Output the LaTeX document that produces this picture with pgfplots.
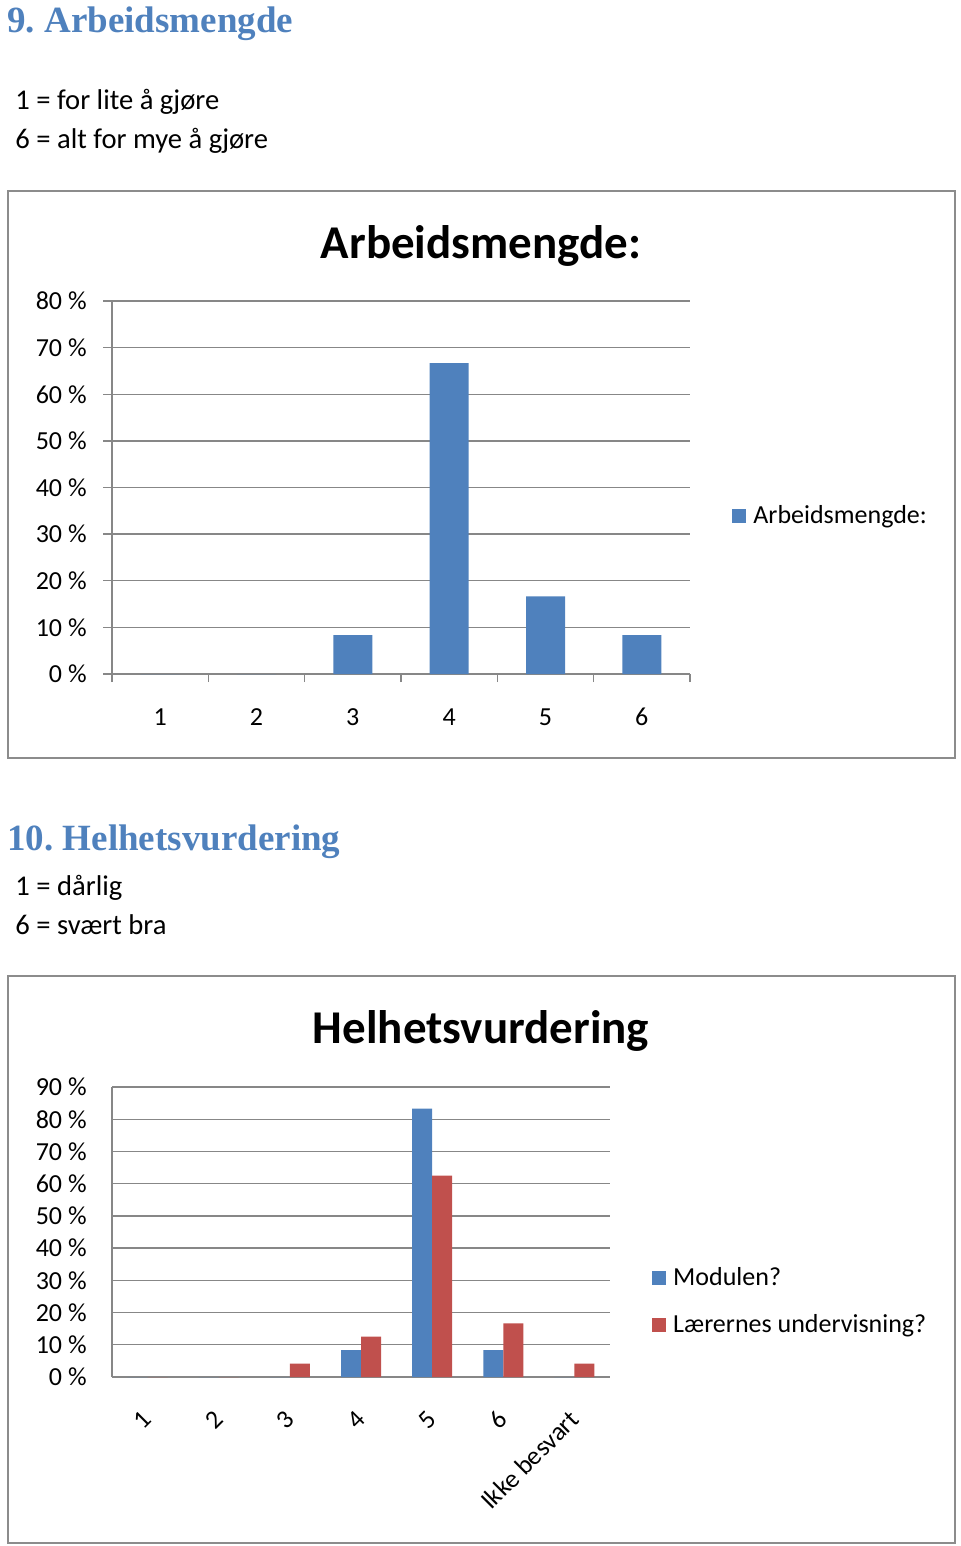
\documentclass[border=0pt]{standalone}
\usepackage{fontspec}
\setmainfont{Carlito}
\newfontfamily\headfont{Liberation Serif}
\usepackage{pgfplots}
\pgfplotsset{compat=1.18}
\frenchspacing

\definecolor{xlblue}{HTML}{4F81BD}
\definecolor{xlred}{HTML}{C0504D}
\definecolor{gridgray}{HTML}{878787}
\definecolor{framegray}{HTML}{8C8C8C}

\newcommand{\headsize}{\fontsize{18.5}{22}\selectfont}
\newcommand{\bodysize}{\fontsize{14.3}{17}\selectfont}
\newcommand{\ttlsize}{\fontsize{23.5}{28}\selectfont}
\newcommand{\lblsize}{\fontsize{13}{15}\selectfont}

\pgfplotsset{
  sqlegend/.style={
    legend image code/.code={\fill[##1] (0pt,-3.5pt) rectangle (7pt,3.5pt);},
  },
  xlchart/.style={
    scale only axis,
    axis x line*=bottom, axis y line*=left,
    axis line style={draw=gridgray, line width=0.7pt, -},
    ymajorgrids, grid style={draw=gridgray, line width=0.7pt},
    ymin=0,
    tick style={draw=gridgray, line width=0.7pt},
    tick align=outside,
    ticklabel style={font=\lblsize, text=black},
    /pgf/number format/assume math mode=true,
    ybar, bar width=19.5pt,
    legend style={draw=none, fill=none, font=\lblsize, text=black,
      inner sep=0pt, nodes={inner sep=1.5pt}, cells={anchor=west},
      /tikz/column sep=2pt},
    sqlegend,
  },
}

\begin{document}
\begin{tikzpicture}
\path[use as bounding box] (0,0) rectangle (480pt,-773pt);

% texts of section 9
\node[anchor=base west, inner sep=0, text=xlblue] at (3.5pt,-16.5pt)
  {\headfont\bfseries\headsize 9. Arbeidsmengde};
\node[anchor=base west, inner sep=0] at (7.5pt,-55pt) {\bodysize 1 = for lite å gjøre};
\node[anchor=base west, inner sep=0] at (7.5pt,-74.5pt) {\bodysize 6 = alt for mye å gjøre};

\draw[framegray, line width=0.8pt] (4pt,-95.5pt) rectangle (477.5pt,-379pt);
\node[anchor=base, inner sep=0] at (240.5pt,-129pt) {\bfseries\ttlsize Arbeidsmengde:};

\begin{axis}[xlchart,
  at={(56pt,-337pt)}, anchor=south west,
  width=289pt, height=186.5pt,
  xmin=0.5, xmax=6.5, ymax=80,
  xtick={1,...,6}, xticklabels={1,2,3,4,5,6},
  major x tick style={draw=none},
  minor xtick={0.5,1.5,...,6.5},
  minor tick length=4pt,
  major tick length=4.5pt,
  xticklabel style={anchor=base, inner sep=0pt, yshift=-21pt},
  ytick={0,10,...,80},
  yticklabels={0 \%,10 \%,20 \%,30 \%,40 \%,50 \%,60 \%,70 \%,80 \%},
  yticklabel style={anchor=mid east, inner sep=0pt, xshift=-8pt, yshift=-2pt},
  legend style={at={(1.0727,0.424)}, anchor=west},
]
\addplot[fill=xlblue, draw=none] coordinates {(1,0) (2,0) (3,8.33) (4,66.67) (5,16.67) (6,8.33)};
\addlegendentry{Arbeidsmengde:}
\end{axis}

% texts of section 10
\node[anchor=base west, inner sep=0, text=xlblue] at (3.5pt,-425pt)
  {\headfont\bfseries\headsize 10. Helhetsvurdering};
\node[anchor=base west, inner sep=0] at (7.5pt,-447.5pt) {\bodysize 1 = dårlig};
\node[anchor=base west, inner sep=0] at (7.5pt,-467pt) {\bodysize 6 = svært bra};

\draw[framegray, line width=0.8pt] (4pt,-488pt) rectangle (477.5pt,-771.5pt);
\node[anchor=base, inner sep=0] at (240.5pt,-521.5pt) {\bfseries\ttlsize Helhetsvurdering};

\begin{axis}[xlchart,
  at={(56pt,-688.5pt)}, anchor=south west,
  width=249pt, height=145pt,
  xmin=0.5, xmax=7.5, ymax=90,
  bar width=10pt, ybar=0pt, sqlegend,
  xtick={1,...,7}, xticklabels={1,2,3,4,5,6,Ikke besvart},
  major tick length=0pt,
  xticklabel style={yshift=-19pt, rotate=45, anchor=east, inner sep=0pt},
  ytick={0,10,...,90},
  yticklabels={0 \%,10 \%,20 \%,30 \%,40 \%,50 \%,60 \%,70 \%,80 \%,90 \%},
  yticklabel style={anchor=mid east, inner sep=0pt, xshift=-12.5pt, yshift=-2pt},
  legend style={at={(1.084,0.26)}, anchor=west, row sep=10pt},
]
\addplot[fill=xlblue, draw=none] coordinates {(1,0) (2,0) (3,0) (4,8.33) (5,83.33) (6,8.33) (7,0)};
\addlegendentry{Modulen?}
\addplot[fill=xlred, draw=none] coordinates {(1,0) (2,0) (3,4.17) (4,12.5) (5,62.5) (6,16.67) (7,4.17)};
\addlegendentry{Lærernes undervisning?}
\end{axis}
\end{tikzpicture}
\end{document}
